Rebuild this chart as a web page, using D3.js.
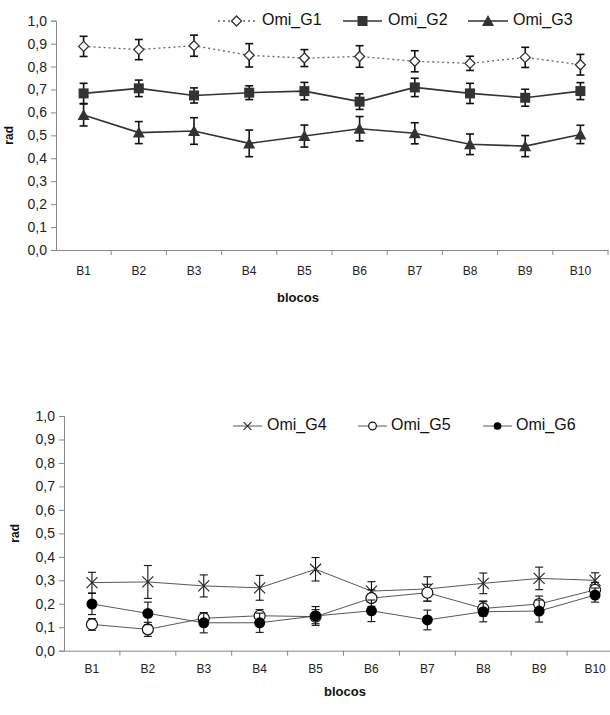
<!DOCTYPE html>
<html><head><meta charset="utf-8">
<script src="https://cdn.jsdelivr.net/npm/d3@7"></script>
<style>body{margin:0;background:#fff;} svg{display:block;font-family:"Liberation Sans",Arial,sans-serif;}</style>
</head><body>
<svg id="c" width="610" height="715"></svg>
<script>
const categories = ["B1","B2","B3","B4","B5","B6","B7","B8","B9","B10"];
const yTicks = [0,0.1,0.2,0.3,0.4,0.5,0.6,0.7,0.8,0.9,1.0];

const g1 = [0.888,0.874,0.891,0.849,0.837,0.844,0.823,0.814,0.840,0.808];
const g1err = [0.044,0.044,0.046,0.051,0.037,0.047,0.046,0.031,0.044,0.045];
const g2 = [0.683,0.705,0.674,0.686,0.693,0.647,0.709,0.683,0.664,0.693];
const g2err = [0.044,0.036,0.033,0.030,0.038,0.034,0.040,0.044,0.037,0.037];
const g3 = [0.589,0.512,0.519,0.465,0.497,0.529,0.509,0.461,0.453,0.504];
const g3err = [0.048,0.048,0.058,0.058,0.048,0.053,0.046,0.045,0.046,0.040];

const g4 = [0.290,0.293,0.276,0.268,0.347,0.254,0.263,0.287,0.308,0.300];
const g4err = [0.044,0.070,0.047,0.053,0.050,0.040,0.052,0.044,0.048,0.032];
const g5 = [0.112,0.091,0.138,0.149,0.145,0.224,0.247,0.180,0.199,0.259];
const g5err = [0.025,0.030,0.023,0.026,0.030,0.035,0.036,0.032,0.034,0.032];
const g6 = [0.199,0.159,0.119,0.119,0.148,0.170,0.131,0.166,0.169,0.237];
const g6err = [0.045,0.048,0.043,0.041,0.040,0.046,0.042,0.043,0.047,0.030];

const svg = d3.select("#c");
const fmt = d => d.toFixed(1).replace(".", ",");

function chart(cfg) {
  const x = d3.scaleBand().domain(categories).range([cfg.x0, cfg.x1]);
  const y = d3.scaleLinear().domain([0,1]).range([cfg.yb, cfg.yt]);
  const g = svg.append("g");
  const axisCol = "#888";
  const ya = g.append("g").attr("transform", `translate(${cfg.x0},0)`)
    .call(d3.axisLeft(y).tickValues(yTicks).tickFormat(fmt).tickSizeOuter(0).tickSize(5).tickPadding(4));
  ya.select(".domain").attr("stroke", axisCol);
  ya.selectAll(".tick line").attr("stroke", axisCol);
  ya.selectAll("text").attr("font-size", cfg.yFont).attr("fill", "#222");
  const xa = g.append("g").attr("transform", `translate(0,${cfg.yb})`)
    .call(d3.axisBottom(x).tickSize(0).tickPadding(cfg.xPad));
  xa.select(".domain").attr("stroke", axisCol);
  xa.selectAll("text").attr("font-size", cfg.xFont).attr("fill", "#222");
  const bounds = categories.map(c => x(c)).concat([cfg.x1]).slice(1);
  g.selectAll(".bt").data(bounds).enter().append("line")
    .attr("x1", d => d).attr("x2", d => d).attr("y1", cfg.yb).attr("y2", cfg.yb + 5)
    .attr("stroke", axisCol);
  g.append("text").attr("transform", `translate(${cfg.radX},${(cfg.yt+cfg.yb)/2}) rotate(-90)`)
    .attr("text-anchor","middle").attr("dominant-baseline","middle")
    .attr("font-size", 12).attr("font-weight","bold").attr("fill","#111").text("rad");
  g.append("text").attr("x", cfg.blX).attr("y", cfg.blY).attr("text-anchor","middle")
    .attr("dominant-baseline","middle").attr("font-size", 13).attr("font-weight","bold")
    .attr("fill","#111").text("blocos");

  const cx = c => x(c) + x.bandwidth()/2;
  cfg.series.forEach(s => {
    const line = d3.line().x((d,i) => cx(categories[i])).y(d => y(d));
    g.append("path").datum(s.vals).attr("d", line).attr("fill","none")
      .attr("stroke", s.lineCol).attr("stroke-width", s.lw).attr("stroke-dasharray", s.dash || null);
    const eb = g.append("g");
    s.vals.forEach((v,i) => {
      const px = cx(categories[i]);
      const top = y(v + s.err[i]), bot = y(v - s.err[i]);
      eb.append("line").attr("x1",px).attr("x2",px).attr("y1",top).attr("y2",bot).attr("stroke","#111").attr("stroke-width",s.ew);
      [top,bot].forEach(yy => eb.append("line").attr("x1",px-4).attr("x2",px+4).attr("y1",yy).attr("y2",yy).attr("stroke","#111").attr("stroke-width",s.ew));
    });
    s.vals.forEach((v,i) => s.marker(g, cx(categories[i]), y(v), 1));
  });
  cfg.series.forEach(s => {
    const L = s.leg;
    g.append("line").attr("x1", L.x1).attr("x2", L.x2).attr("y1", cfg.legY).attr("y2", cfg.legY)
      .attr("stroke", s.lineCol).attr("stroke-width", s.lw).attr("stroke-dasharray", s.dash || null);
    s.marker(g, (L.x1+L.x2)/2, cfg.legY, cfg.legScale);
    g.append("text").attr("x", L.tx).attr("y", cfg.legY).attr("dominant-baseline","middle")
      .attr("font-size", cfg.legFont).attr("fill","#111").text(s.name);
  });
}

const diamond = (g,x,y,k) => g.append("path").attr("d", `M${x},${y-5*k}L${x+5*k},${y}L${x},${y+5*k}L${x-5*k},${y}Z`).attr("fill","#fff").attr("stroke","#333").attr("stroke-width",1.3);
const square = (g,x,y,k) => g.append("rect").attr("x",x-5*k).attr("y",y-5*k).attr("width",10*k).attr("height",10*k).attr("fill","#333");
const tri = (g,x,y,k) => g.append("path").attr("d", `M${x},${y-6*k}L${x+6*k},${y+5*k}L${x-6*k},${y+5*k}Z`).attr("fill","#333");
const cross = (g,x,y,k) => g.append("path").attr("d", `M${x-5.5*k},${y-5.5*k}L${x+5.5*k},${y+5.5*k}M${x+5.5*k},${y-5.5*k}L${x-5.5*k},${y+5.5*k}`).attr("stroke","#222").attr("stroke-width",1.1).attr("fill","none");
const openC = (g,x,y,k) => g.append("circle").attr("cx",x).attr("cy",y).attr("r",5.5*k).attr("fill","#fff").attr("stroke","#111").attr("stroke-width",1.2);
const fillC = (g,x,y,k) => g.append("circle").attr("cx",x).attr("cy",y).attr("r",5.5*k).attr("fill","#000");

chart({
  x0: 56, x1: 608, yt: 20.7, yb: 250, yFont: 14, xFont: 12, xPad: 16, legFont: 16, legScale: 1,
  radX: 10, blX: 298, blY: 299, legY: 21,
  series: [
    {name:"Omi_G1", vals:g1, err:g1err, lineCol:"#666", lw:1.3, dash:"2,3", ew:1.6, marker:diamond, leg:{x1:218,x2:255,tx:262}},
    {name:"Omi_G2", vals:g2, err:g2err, lineCol:"#333", lw:1.6, ew:1.6, marker:square, leg:{x1:343,x2:382,tx:388}},
    {name:"Omi_G3", vals:g3, err:g3err, lineCol:"#333", lw:1.6, ew:1.6, marker:tri, leg:{x1:468,x2:508,tx:513}}
  ]
});

chart({
  x0: 64, x1: 623, yt: 416, yb: 650.7, yFont: 14, xFont: 12, xPad: 14, legFont: 16, legScale: 0.7,
  radX: 16, blX: 345, blY: 693, legY: 426,
  series: [
    {name:"Omi_G4", vals:g4, err:g4err, lineCol:"#444", lw:0.9, ew:1.1, marker:cross, leg:{x1:233,x2:262,tx:267}},
    {name:"Omi_G5", vals:g5, err:g5err, lineCol:"#444", lw:0.9, ew:1.1, marker:openC, leg:{x1:358,x2:387,tx:391}},
    {name:"Omi_G6", vals:g6, err:g6err, lineCol:"#444", lw:0.9, ew:1.1, marker:fillC, leg:{x1:483,x2:512,tx:516}}
  ]
});
</script>
</body></html>
